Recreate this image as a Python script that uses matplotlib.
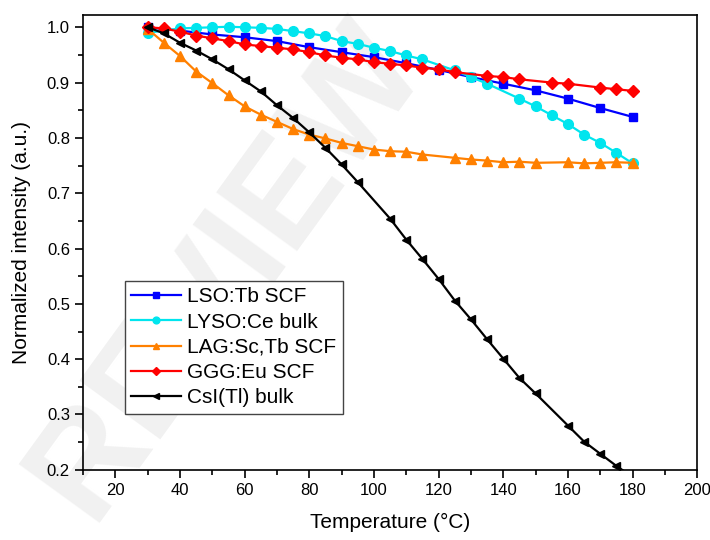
"""Temperature dependence of normalized scintillation intensity."""
import matplotlib
matplotlib.use("Agg")
import matplotlib.pyplot as plt
from matplotlib.ticker import MultipleLocator

plt.rcParams["font.family"] = ["Liberation Sans", "DejaVu Sans"]

# LSO:Tb SCF
lso_t = [30, 40, 50, 60, 70, 80, 90, 100, 110, 120, 130, 140, 150, 160, 170, 180]
lso_i = [1.000, 0.994, 0.987, 0.982, 0.975, 0.964, 0.955, 0.946, 0.935, 0.923,
         0.910, 0.898, 0.886, 0.871, 0.854, 0.838]

# LYSO:Ce bulk
lyso_t = [30, 40, 45, 50, 55, 60, 65, 70, 75, 80, 85, 90, 95, 100, 105, 110, 115,
          125, 130, 135, 145, 150, 155, 160, 165, 170, 175, 180]
lyso_i = [0.990, 0.998, 0.999, 1.000, 1.001, 1.000, 0.999, 0.997, 0.993, 0.989,
          0.984, 0.975, 0.970, 0.963, 0.957, 0.949, 0.942, 0.922, 0.910, 0.898,
          0.871, 0.857, 0.841, 0.825, 0.806, 0.791, 0.773, 0.754]

# LAG:Sc,Tb SCF
lag_t = [30, 35, 40, 45, 50, 55, 60, 65, 70, 75, 80, 85, 90, 95, 100, 105, 110,
         115, 125, 130, 135, 140, 145, 150, 160, 165, 170, 175, 180]
lag_i = [0.997, 0.972, 0.948, 0.920, 0.899, 0.877, 0.857, 0.842, 0.829, 0.816,
         0.806, 0.799, 0.791, 0.785, 0.779, 0.776, 0.775, 0.770, 0.764, 0.761,
         0.759, 0.756, 0.757, 0.755, 0.756, 0.754, 0.755, 0.756, 0.755]

# GGG:Eu SCF
ggg_t = [30, 35, 40, 45, 50, 55, 60, 65, 70, 75, 80, 85, 90, 95, 100, 105, 110,
         115, 120, 125, 135, 140, 145, 155, 160, 170, 175, 180]
ggg_i = [1.000, 0.998, 0.992, 0.985, 0.980, 0.975, 0.969, 0.966, 0.963, 0.960,
         0.955, 0.949, 0.945, 0.942, 0.937, 0.934, 0.931, 0.927, 0.924, 0.919,
         0.912, 0.910, 0.906, 0.900, 0.898, 0.891, 0.888, 0.885]

# CsI(Tl) bulk
csi_t = [30, 35, 40, 45, 50, 55, 60, 65, 70, 75, 80, 85, 90, 95, 105, 110, 115,
         120, 125, 130, 135, 140, 145, 150, 160, 165, 170, 175, 180]
csi_i = [1.000, 0.989, 0.972, 0.958, 0.942, 0.924, 0.904, 0.884, 0.859, 0.836,
         0.810, 0.782, 0.752, 0.720, 0.654, 0.616, 0.581, 0.545, 0.506, 0.472,
         0.436, 0.401, 0.366, 0.338, 0.280, 0.251, 0.229, 0.207, 0.187]


def main():
    fig = plt.figure(figsize=(7.1, 5.4), dpi=100)
    ax = fig.add_axes([0.117, 0.130, 0.865, 0.842])
    ax.set_facecolor("none")

    # faint watermark behind everything
    fig.text(0.32, 0.50, "REVIEW", fontsize=104, fontweight="bold",
             color="#f1f1f1", rotation=54, ha="center", va="center", zorder=-1)

    lw = 1.6
    ax.plot(lso_t, lso_i, "-s", color="#0000ff", lw=lw, ms=6, label="LSO:Tb SCF")
    ax.plot(lyso_t, lyso_i, "-o", color="#00e5ee", lw=lw, ms=7, label="LYSO:Ce bulk")
    ax.plot(lag_t, lag_i, "-^", color="#ff8000", lw=lw, ms=7, label="LAG:Sc,Tb SCF")
    ax.plot(ggg_t, ggg_i, "-D", color="#ff0000", lw=lw, ms=6, label="GGG:Eu SCF")
    ax.plot(csi_t, csi_i, "-<", color="black", lw=lw, ms=6, label="CsI(Tl) bulk")

    ax.set_xlim(10, 200)
    ax.set_ylim(0.2, 1.022)
    ax.xaxis.set_major_locator(MultipleLocator(20))
    ax.xaxis.set_minor_locator(MultipleLocator(10))
    ax.yaxis.set_major_locator(MultipleLocator(0.1))
    ax.yaxis.set_minor_locator(MultipleLocator(0.05))
    ax.set_xticks(range(20, 201, 20))
    ax.tick_params(which="major", direction="out", length=6, width=1.2, labelsize=12)
    ax.tick_params(which="minor", direction="out", length=3.5, width=1.2)
    for s in ax.spines.values():
        s.set_linewidth(1.2)

    ax.set_xlabel("Temperature (\u00b0C)", fontsize=15, labelpad=11)
    ax.set_ylabel("Normalized intensity (a.u.)", fontsize=15, labelpad=11)

    leg = ax.legend(loc="upper left", bbox_to_anchor=(0.068, 0.415),
                    borderaxespad=0, fontsize=15, fancybox=False,
                    edgecolor="#444444", framealpha=1, markerscale=0.7,
                    handlelength=2.4, handletextpad=0.3, labelspacing=0.3,
                    borderpad=0.3)
    leg.get_frame().set_linewidth(1.0)

    fig.savefig("out.png", dpi=100)
    plt.close(fig)


if __name__ == "__main__":
    main()
